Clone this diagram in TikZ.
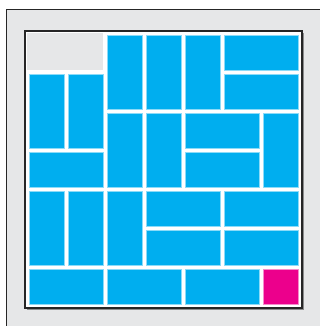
\documentclass[tikz,border=0pt]{standalone}
\definecolor{tileblue}{HTML}{00AEEF}
\definecolor{tilepink}{HTML}{EC008C}
\definecolor{panelgray}{HTML}{E6E7E8}
\tikzset{
  tile/.style={fill=tileblue, draw=tileblue!45, line width=0.3pt},
  hole/.style={fill=tilepink, draw=tilepink!45, line width=0.3pt},
  frame/.style={draw=black!85, line width=1pt},
}
\newcommand{\gp}{0.045}
\begin{document}
\begin{tikzpicture}[x=0.975cm,y=-0.975cm]
    % Khung hình
    \useasboundingbox (-0.6923,-0.8462) rectangle (7.5128,7.5128);
    \filldraw[frame, fill=panelgray] (-0.525,-0.6) rectangle (8,8);
    \draw[black!45, line width=1pt] (0.01,7.08) -- (7.08,7.08) -- (7.08,0.01);
    \filldraw[frame, line width=1.4pt, fill=white] (-0.04,-0.04) rectangle (7.06,7.06);
    
    % Hai ô bị bỏ
    \fill[panelgray] (0,0) rectangle (2-\gp,1-\gp);
    
    % Các quân domino: cột/hàng/rộng/cao
    \foreach \c/\r/\w/\h in {2/0/1/2, 3/0/1/2, 4/0/1/2, 5/0/2/1, 5/1/2/1,
                             0/1/1/2, 1/1/1/2, 2/2/1/2, 3/2/1/2, 4/2/2/1,
                             4/3/2/1, 6/2/1/2, 0/3/2/1, 0/4/1/2, 1/4/1/2,
                             2/4/1/2, 3/4/2/1, 5/4/2/1, 3/5/2/1, 5/5/2/1,
                             0/6/2/1, 2/6/2/1, 4/6/2/1}
    \filldraw[tile] (\c+\gp,\r+\gp) rectangle (\c+\w-\gp,\r+\h-\gp);
    
    % Ô cuối
    \filldraw[hole] (6+\gp,6+\gp) rectangle (7-\gp,7-\gp);
\end{tikzpicture}
\end{document}
